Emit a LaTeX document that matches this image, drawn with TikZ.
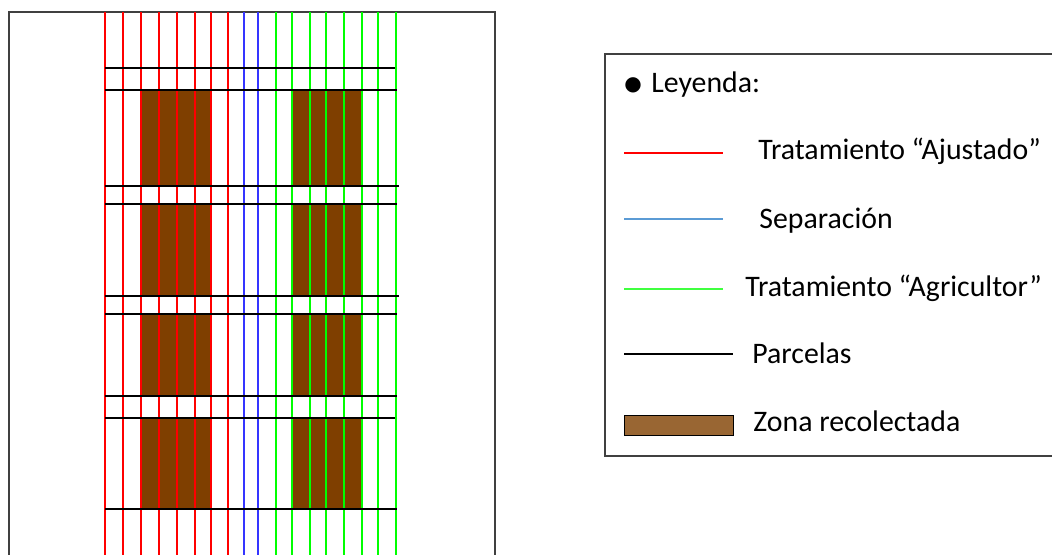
\documentclass[tikz,border=0pt]{standalone}
\usepackage{fontspec}
\setmainfont{Carlito}
\newfontfamily\simbolo{DejaVu Sans}
\usetikzlibrary{positioning}

\definecolor{tierra}{HTML}{7F3F00}
\definecolor{tierraley}{HTML}{996633}
\definecolor{azul}{HTML}{3535FF}
\definecolor{azulley}{HTML}{5B9BD5}
\definecolor{verde}{HTML}{00FF00}
\definecolor{verdeley}{HTML}{40FF40}

\begin{document}
\begin{tikzpicture}
[x=0.5pt, y=-0.5pt,
every node/.style={font=\fontsize{14.9}{17}\selectfont, inner sep=0pt},
borde/.style={draw=black!75, line width=1.1pt},
ajustado/.style={red, line width=1pt},
separacion/.style={azul, line width=1pt},
agricultor/.style={verde, line width=1pt},
parcela/.style={black, line width=1.1pt},
zona/.style={fill=tierra},
muestra/.style={line width=0.7pt},
etiqueta/.style={anchor=base west}
]
  \useasboundingbox (0,0) rectangle (1052,554);
  \clip (0,0) rectangle (1052,554);

  % campo
  \draw[borde] (9,12) rectangle (495,600);
  \foreach \ya/\yb in {90/186, 204/296, 314/396, 418/509}{
    \fill[zona] (141,\ya) rectangle (212,\yb);
    \fill[zona] (292,\ya) rectangle (362,\yb);
  }
  \foreach \x in {105.3,123.3,141.3,159.3,177.3,195.3,211.3,228}
    \draw[ajustado] (\x,12) -- (\x,560);
  \foreach \x in {243.7,257.7}
    \draw[separacion] (\x,12) -- (\x,560);
  \foreach \x in {275.7,292,310,326,344.3,362.3,378.3,396.3}
    \draw[agricultor] (\x,12) -- (\x,560);
  \foreach \y/\xf in {68/395, 90/397, 186/399, 204/397, 296/399, 314.3/397, 396.3/397, 418.3/395, 508.7/397}
    \draw[parcela] (105,\y) -- (\xf,\y);

  % leyenda
  \draw[borde] (605,54) rectangle (1100,456);
  \node[etiqueta] (leyenda) at (651,92.7) {Leyenda:};
  \node (punto) at (633,85) {\simbolo\fontsize{10}{12}\selectfont ●};

  \coordinate (aj1) at (624,153);  \coordinate (aj2) at (723,153);
  \coordinate (se1) at (624,219);  \coordinate (se2) at (723,219);
  \coordinate (ag1) at (624,289);  \coordinate (ag2) at (723,289);
  \coordinate (pa1) at (624,354);  \coordinate (pa2) at (733,354);

  \draw[muestra, red] (aj1) -- (aj2);
  \draw[muestra, azulley] (se1) -- (se2);
  \draw[muestra, verdeley] (ag1) -- (ag2);
  \draw[muestra, black] (pa1) -- (pa2);
  \node[draw=black, fill=tierraley, muestra, minimum width=54.5pt, minimum height=10pt,
        anchor=north west] (zon) at (624,415) {};

  \node[etiqueta] (tajus) at (758,159) {Tratamiento “Ajustado”};
  \node[etiqueta] (tsepa) at (759,228) {Separación};
  \node[etiqueta] (tagri) at (745,296) {Tratamiento “Agricultor”};
  \node[etiqueta] (tparc) at (752,363) {Parcelas};
  \node[etiqueta] (tzona) at (753,431) {Zona recolectada};
\end{tikzpicture}
\end{document}
